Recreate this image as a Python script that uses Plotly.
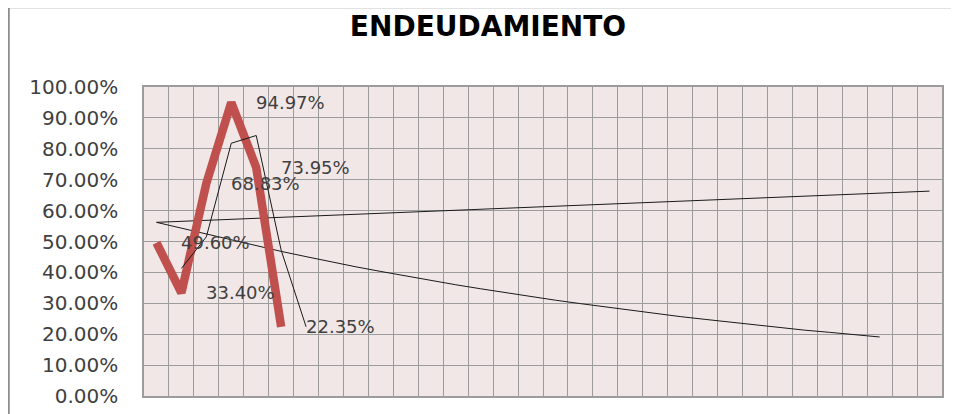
import plotly.graph_objects as go

# ---- data ----
ratio_x = [0, 1, 2, 3, 4, 5]
ratio_values = [0.4960, 0.3340, 0.6883, 0.9497, 0.7395, 0.2235]
ratio_labels = ["49.60%", "33.40%", "68.83%", "94.97%", "73.95%", "22.35%"]

moving_avg_x = [1, 2, 3, 4, 5, 6]
moving_avg_values = [0.413, 0.515, 0.818, 0.843, 0.472, 0.224]

linear_trend_x = [0, 31]
linear_trend_values = [0.562, 0.663]

decay_trend_x = list(range(30))
decay_trend_values = [0.562, 0.543, 0.523, 0.504, 0.486, 0.468, 0.451, 0.434,
                      0.418, 0.403, 0.388, 0.374, 0.360, 0.347, 0.334, 0.322,
                      0.310, 0.299, 0.288, 0.277, 0.267, 0.257, 0.248, 0.239,
                      0.230, 0.221, 0.213, 0.206, 0.198, 0.191]

n_categories = 32
y_ticks = [i / 10 for i in range(11)]

# ---- layout constants (page body has an 8px default margin) ----
OFF = 8
W, H = 959 - OFF, 414 - OFF
ML, MR, MT, MB = 144 - OFF, 17, 87 - OFF, 18
PW = W - ML - MR
PH = H - MT - MB

GRID = "#9c9c9c"
RED = "#c0504d"
TXT = "#404040"

fig = go.Figure()

fig.add_trace(go.Scatter(x=linear_trend_x, y=linear_trend_values, mode="lines",
                         line=dict(color="#1a1a1a", width=1), hoverinfo="skip",
                         showlegend=False))
fig.add_trace(go.Scatter(x=decay_trend_x, y=decay_trend_values, mode="lines",
                         line=dict(color="#1a1a1a", width=1), hoverinfo="skip",
                         showlegend=False))
fig.add_trace(go.Scatter(x=ratio_x, y=ratio_values, mode="lines",
                         line=dict(color=RED, width=8.5), showlegend=False))
fig.add_trace(go.Scatter(x=moving_avg_x, y=moving_avg_values, mode="lines",
                         line=dict(color="#1a1a1a", width=1), hoverinfo="skip",
                         showlegend=False))

for xv, yv, lab in zip(ratio_x, ratio_values, ratio_labels):
    fig.add_annotation(x=xv, y=yv, text=lab, showarrow=False, xanchor="left",
                       yanchor="middle", xshift=23,
                       font=dict(family="DejaVu Sans", size=18, color=TXT))

# chart-area border (left and top edges visible)
bx = -(ML - 0.5) / PW
by = (PH + MT + 1) / PH
fig.add_shape(type="line", xref="paper", yref="paper",
              x0=bx, x1=(W - ML) / PW, y0=by, y1=by,
              line=dict(color="#8c8c8c", width=2.5))
fig.add_shape(type="line", xref="paper", yref="paper",
              x0=bx, x1=bx, y0=by + 1 / PH, y1=-(MB + 5) / PH,
              line=dict(color="#8c8c8c", width=2.5))

fig.update_layout(
    width=W, height=H,
    margin=dict(l=ML, r=MR, t=MT, b=MB, autoexpand=False),
    paper_bgcolor="white",
    plot_bgcolor="#f2e7e7",
    title=dict(text="<b>ENDEUDAMIENTO</b>", x=(488 - OFF) / W, xref="container",
               xanchor="center", y=1 - (26 - OFF) / H, yref="container",
               yanchor="middle",
               font=dict(family="DejaVu Sans", size=28, color="#000000")),
    xaxis=dict(range=[-0.5, n_categories - 0.5], tick0=-0.5, dtick=1,
               showticklabels=False, showgrid=True, gridcolor=GRID, gridwidth=1.3,
               zeroline=False, showline=True, mirror=True, linecolor=GRID,
               linewidth=1.5, ticks=""),
    yaxis=dict(range=[0, 1], tickvals=y_ticks, tickformat=".2%",
               showgrid=True, gridcolor=GRID, gridwidth=1.3, zeroline=False,
               showline=True, mirror=True, linecolor=GRID, linewidth=1.5,
               ticks="", ticklabelstandoff=20, automargin=False,
               tickfont=dict(family="DejaVu Sans", size=20, color=TXT)),
)

fig.write_html("out.html")
